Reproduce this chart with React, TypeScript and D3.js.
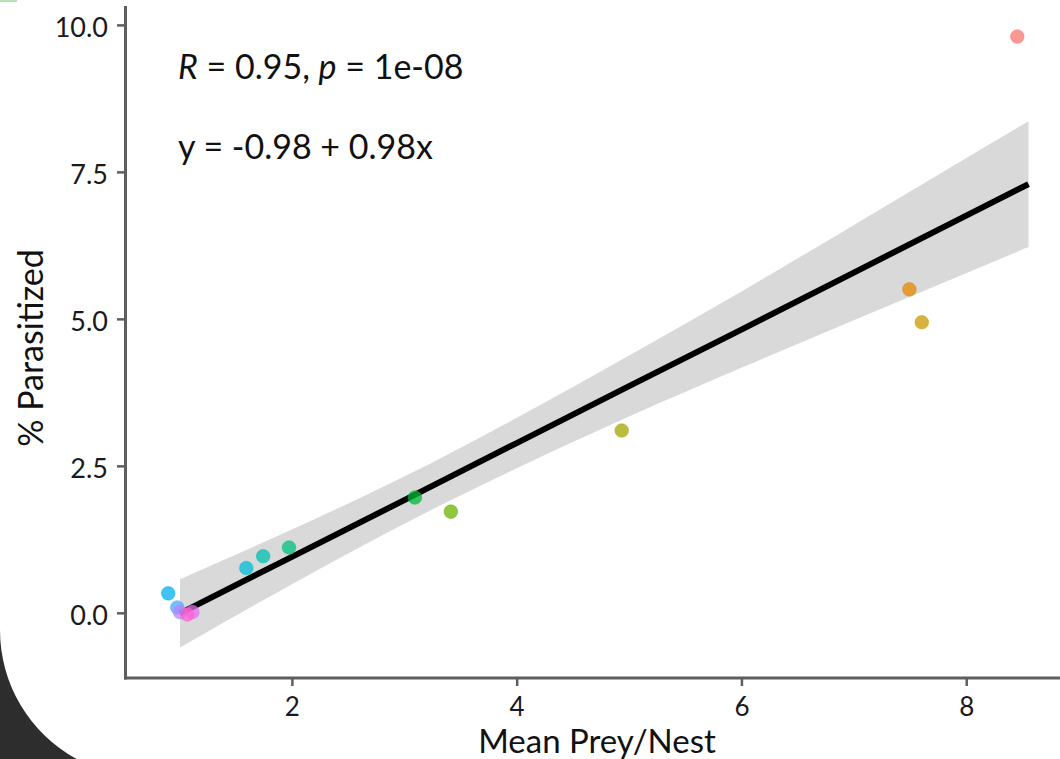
import React, { useEffect, useRef } from "react";
import * as d3 from "d3";

// points (Mean Prey/Nest, % Parasitized)
const preyX = [8.45, 7.49, 7.6, 4.93, 3.41, 3.09, 1.97, 1.74, 1.59, 0.895, 0.975, 1.0, 1.11, 1.065];
const parasitY = [9.81, 5.51, 4.95, 3.11, 1.73, 1.97, 1.12, 0.97, 0.77, 0.34, 0.1, 0.02, 0.02, -0.02];
const pointColors = [
  "#F8766D", "#E58700", "#C99800", "#A3A500", "#6BB100", "#00BA38", "#00BF7D",
  "#00C0AF", "#00BCD8", "#00B0F6", "#4FA6FF", "#B983FF", "#E76BF3", "#FD61D1",
];

// fitted line + confidence band
const bandX = [1.0, 2, 3, 4, 5, 6, 7, 8, 8.55];
const fitY = [0.0, 0.965, 1.93, 2.9, 3.87, 4.83, 5.8, 6.77, 7.3];
const bandLow = [-0.58, 0.5, 1.53, 2.47, 3.35, 4.18, 4.99, 5.79, 6.23];
const bandHigh = [0.58, 1.43, 2.33, 3.33, 4.39, 5.48, 6.61, 7.75, 8.37];

const xTicks = [2, 4, 6, 8];
const yTicks = [0, 2.5, 5, 7.5, 10];

const W = 1060;
const H = 759;

const App = () => {
  const ref = useRef<SVGSVGElement | null>(null);

  useEffect(() => {
    const svg = d3.select(ref.current);
    svg.selectAll("*").remove();

    const x = d3.scaleLinear().domain([0.515, 8.83]).range([125.5, 1060]);
    const y = d3.scaleLinear().domain([-1.1, 10.33]).range([678, 6]);

    svg.append("rect").attr("width", W).attr("height", H).attr("fill", "#fff");

    // dark rounded corner bottom-left (screenshot frame)
    svg.append("path")
      .attr("d", "M0,630 A147,147 0 0 0 76.5,759 L0,759 Z")
      .attr("fill", "#2d2d2d");
    svg.append("line")
      .attr("x1", 0).attr("x2", 17).attr("y1", 1).attr("y2", 1)
      .attr("stroke", "#9fd89f").attr("stroke-width", 1.5);

    // confidence band
    const idx = d3.range(bandX.length);
    const area = d3.area<number>()
      .x((i) => x(bandX[i]))
      .y0((i) => y(bandLow[i]))
      .y1((i) => y(bandHigh[i]))
      .curve(d3.curveMonotoneX);
    svg.append("path").attr("d", area(idx)).attr("fill", "#d9d9d9");

    const line = d3.line<number>()
      .x((i) => x(bandX[i]))
      .y((i) => y(fitY[i]));
    svg.append("path")
      .attr("d", line(idx))
      .attr("fill", "none")
      .attr("stroke", "#000")
      .attr("stroke-width", 6);

    // points
    svg.append("g")
      .selectAll("circle")
      .data(preyX.map((v, i) => i))
      .enter()
      .append("circle")
      .attr("cx", (i) => x(preyX[i]))
      .attr("cy", (i) => y(parasitY[i]))
      .attr("r", 6.8)
      .attr("fill", (i) => pointColors[i])
      .attr("fill-opacity", 0.75)
      .attr("stroke", (i) => pointColors[i])
      .attr("stroke-opacity", 0.5)
      .attr("stroke-width", 1);

    const font = "Lato, 'Open Sans', sans-serif";
    const axisColor = "#5e5e5e";

    // axes
    svg.append("line")
      .attr("x1", 125.5).attr("x2", 125.5).attr("y1", 6).attr("y2", 679.5)
      .attr("stroke", axisColor).attr("stroke-width", 3);
    svg.append("line")
      .attr("x1", 124).attr("x2", 1060).attr("y1", 678).attr("y2", 678)
      .attr("stroke", axisColor).attr("stroke-width", 3);

    const yt = svg.append("g");
    yTicks.forEach((t) => {
      yt.append("line")
        .attr("x1", 117).attr("x2", 125).attr("y1", y(t)).attr("y2", y(t))
        .attr("stroke", axisColor).attr("stroke-width", 2.5);
      yt.append("text")
        .attr("x", 108).attr("y", y(t) + 1.5).attr("dy", "0.36em")
        .attr("text-anchor", "end")
        .attr("font-family", font).attr("font-size", 27).attr("fill", "#1a1a1a")
        .text(d3.format(".1f")(t));
    });

    const xt = svg.append("g");
    xTicks.forEach((t) => {
      xt.append("line")
        .attr("x1", x(t)).attr("x2", x(t)).attr("y1", 678).attr("y2", 686)
        .attr("stroke", axisColor).attr("stroke-width", 2.5);
      xt.append("text")
        .attr("x", x(t)).attr("y", 716)
        .attr("text-anchor", "middle")
        .attr("font-family", font).attr("font-size", 26).attr("fill", "#1a1a1a")
        .text(t);
    });

    // axis titles
    svg.append("text")
      .attr("x", 597).attr("y", 753)
      .attr("text-anchor", "middle")
      .attr("font-family", font).attr("font-size", 33).attr("fill", "#111")
      .text("Mean Prey/Nest");
    svg.append("text")
      .attr("transform", "translate(43,348) rotate(-90)")
      .attr("text-anchor", "middle")
      .attr("font-family", font).attr("font-size", 34).attr("fill", "#111")
      .text("% Parasitized");

    // annotations
    const r = svg.append("text")
      .attr("x", 178).attr("y", 79)
      .attr("font-family", font).attr("font-size", 34).attr("fill", "#111");
    r.append("tspan").attr("font-style", "italic").text("R");
    r.append("tspan").text(" = 0.95, ");
    r.append("tspan").attr("font-style", "italic").text("p");
    r.append("tspan").text(" = 1e-08");

    svg.append("text")
      .attr("x", 178).attr("y", 159)
      .attr("font-family", font).attr("font-size", 34).attr("fill", "#111")
      .text("y = -0.98 + 0.98x");
  }, []);

  return (
    <svg
      ref={ref}
      width={W}
      height={H}
      style={{ position: "absolute", left: 0, top: 0, display: "block" }}
    />
  );
};

export default App;
